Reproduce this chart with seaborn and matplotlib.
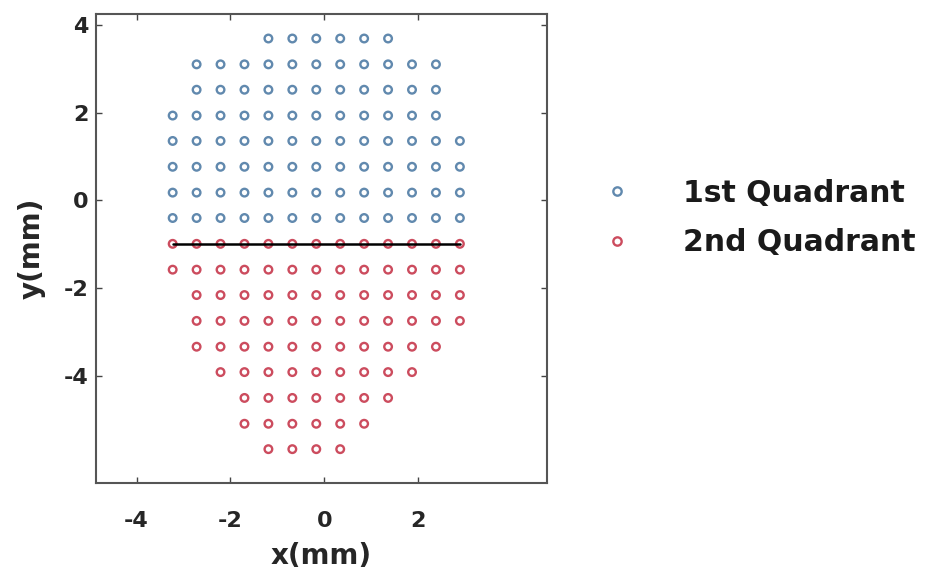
import numpy as np
import pandas as pd
import matplotlib
matplotlib.use("Agg")
import matplotlib.pyplot as plt
import seaborn as sns
from matplotlib.lines import Line2D

# ---- data ----
col_x = [-3.23, -2.72, -2.21, -1.70, -1.19, -0.68, -0.17, 0.34, 0.85, 1.36, 1.87, 2.38, 2.89]

# first quadrant rows: (y, first column index, last column index)
q1_y = [3.70, 3.11, 2.53, 1.94, 1.36, 0.77, 0.18, -0.40]
q1_first = [4, 1, 1, 0, 0, 0, 0, 0]
q1_last = [9, 11, 11, 11, 12, 12, 12, 12]

# second quadrant rows
q2_y = [-0.99, -1.58, -2.16, -2.75, -3.34, -3.92, -4.51, -5.10, -5.68]
q2_first = [0, 0, 1, 1, 1, 2, 3, 3, 4]
q2_last = [12, 12, 12, 12, 11, 10, 9, 8, 7]

labels = ["1st Quadrant", "2nd Quadrant"]
colors = ["#6189ae", "#cc4c5e"]

line_x = [-3.23, 2.89]
line_y = [-0.99, -0.99]

x_ticks = [-4, -2, 0, 2]
y_ticks = [-4, -2, 0, 2, 4]

# ---- build table ----
rows = []
for ys, fs, ls, lab in [(q1_y, q1_first, q1_last, labels[0]),
                        (q2_y, q2_first, q2_last, labels[1])]:
    for y, f, l in zip(ys, fs, ls):
        for x in col_x[f:l + 1]:
            rows.append({"x": x, "y": y, "quadrant": lab})
df = pd.DataFrame(rows)

sns.set_style("ticks")
plt.rcParams["font.family"] = ["DejaVu Sans"]
plt.rcParams["font.weight"] = "bold"

fig = plt.figure(figsize=(9.26, 5.77), dpi=100)
ax = fig.add_axes([95.7 / 926, 1 - 483.3 / 577, (546.7 - 95.7) / 926, (483.3 - 14) / 577])

for lab, c in zip(labels, colors):
    sub = df[df["quadrant"] == lab]
    sns.scatterplot(data=sub, x="x", y="y", ax=ax, marker="o", s=30,
                    facecolor="none", edgecolor=c, linewidth=1.7, legend=False)
for coll, c in zip(ax.collections, colors):
    coll.set_facecolor("none")
    coll.set_edgecolor(c)
    coll.set_linewidth(1.7)

sns.lineplot(x=line_x, y=line_y, ax=ax, color="black", linewidth=1.8, legend=False)

ax.set_xlim(-4.87, 4.74)
ax.set_ylim(-6.46, 4.26)
ax.set_xticks(x_ticks)
ax.set_yticks(y_ticks)
ax.set_xticklabels([str(t) for t in x_ticks], fontsize=16, fontweight="bold", color="#262626")
ax.set_yticklabels([str(t) for t in y_ticks], fontsize=16, fontweight="bold", color="#262626")
ax.tick_params(direction="in", top=True, right=True, length=4, width=1.0, color="#444444")
ax.tick_params(axis="x", pad=20)
ax.tick_params(axis="y", pad=5)
for sp in ax.spines.values():
    sp.set_color("#555555")
    sp.set_linewidth(1.5)
ax.set_xlabel("x(mm)", fontsize=20, fontweight="bold", color="#262626", labelpad=8)
ax.set_ylabel("y(mm)", fontsize=20, fontweight="bold", color="#262626", labelpad=13)

handles = [Line2D([], [], linestyle="none", marker="o", markersize=6,
                  markerfacecolor="none", markeredgecolor=c, markeredgewidth=1.7)
           for c in colors]
fig.legend(handles, labels, loc="center left", bbox_to_anchor=(602 / 926, 1 - 218 / 577),
           frameon=False, borderpad=0, borderaxespad=0, handlelength=1.0,
           handletextpad=1.7, labelspacing=0.68,
           prop={"size": 21.5, "weight": "bold"}, labelcolor="#1a1a1a")

fig.savefig("out.png", dpi=100)
